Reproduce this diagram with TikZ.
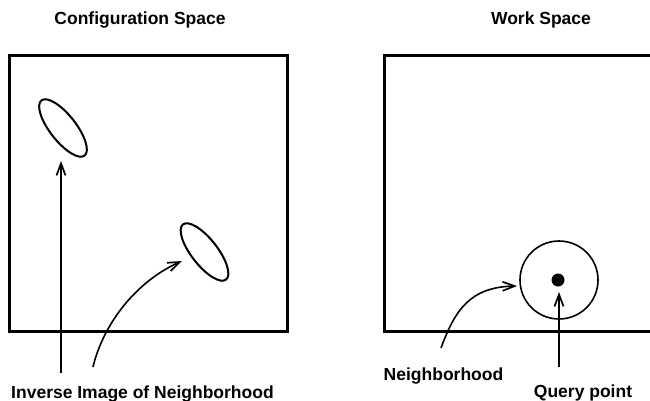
\documentclass[tikz,border=0pt]{standalone}
\usepackage{fontspec}
\setmainfont{Liberation Sans}
\usetikzlibrary{arrows.meta,shapes.geometric}
\tikzset{
  frame/.style={line width=3pt,line cap=rect},
  blob/.style={ellipse,draw,line width=2pt,inner sep=0pt,
    minimum width=70pt,minimum height=26pt,rotate=-52},
  ptr/.style={-{Straight Barb[length=12pt,width=9pt,line width=1.7pt]},line width=1.6pt},
  lbl/.style={font=\fontsize{17.5}{20}\selectfont\bfseries,inner sep=0pt,anchor=base},
  nbhd/.style={circle,draw,line width=1.6pt,minimum size=78pt,inner sep=0pt},
  qpt/.style={circle,fill=black,minimum size=13pt,inner sep=0pt},
}
\begin{document}
\begin{tikzpicture}[x=1pt,y=-1pt]
  \useasboundingbox (0,0) rectangle (650,401);
  % configuration space
  \node[lbl] (cfgtitle) at (140,25) {Configuration Space};
  \draw[frame] (9,56) rectangle (287,331);
  \node[blob] (inv1) at (63,128) {};
  \node[blob] (inv2) at (204.5,252) {};
  \node[lbl] (invlbl) at (142.5,398) {Inverse Image of Neighborhood};
  \coordinate (inv1from) at (61,373);
  \coordinate (inv1to) at (61,161);
  \coordinate (inv2from) at (93,367);
  \coordinate (inv2to) at (182,261);
  \draw[ptr] (inv1from) -- (inv1to);
  \draw[ptr] (inv2from) .. controls (103,325) and (135,282) .. (inv2to);
  % work space
  \node[lbl] (wstitle) at (541,25) {Work Space};
  \draw[frame] (651,56) -- (384,56) -- (384,331) -- (651,331);
  \node[nbhd] (nb) at (559,280) {};
  \node[qpt] (qp) at (558,280) {};
  \node[lbl] (nblbl) at (443.5,380) {Neighborhood};
  \node[lbl] (qplbl) at (583,397) {Query point};
  \coordinate (nbfrom) at (441,348);
  \coordinate (nbto) at (517,286);
  \coordinate (qpfrom) at (559,367);
  \coordinate (qpto) at (559,292);
  \draw[ptr] (nbfrom) .. controls (455,310) and (470,287) .. (nbto);
  \draw[ptr] (qpfrom) -- (qpto);
\end{tikzpicture}
\end{document}
